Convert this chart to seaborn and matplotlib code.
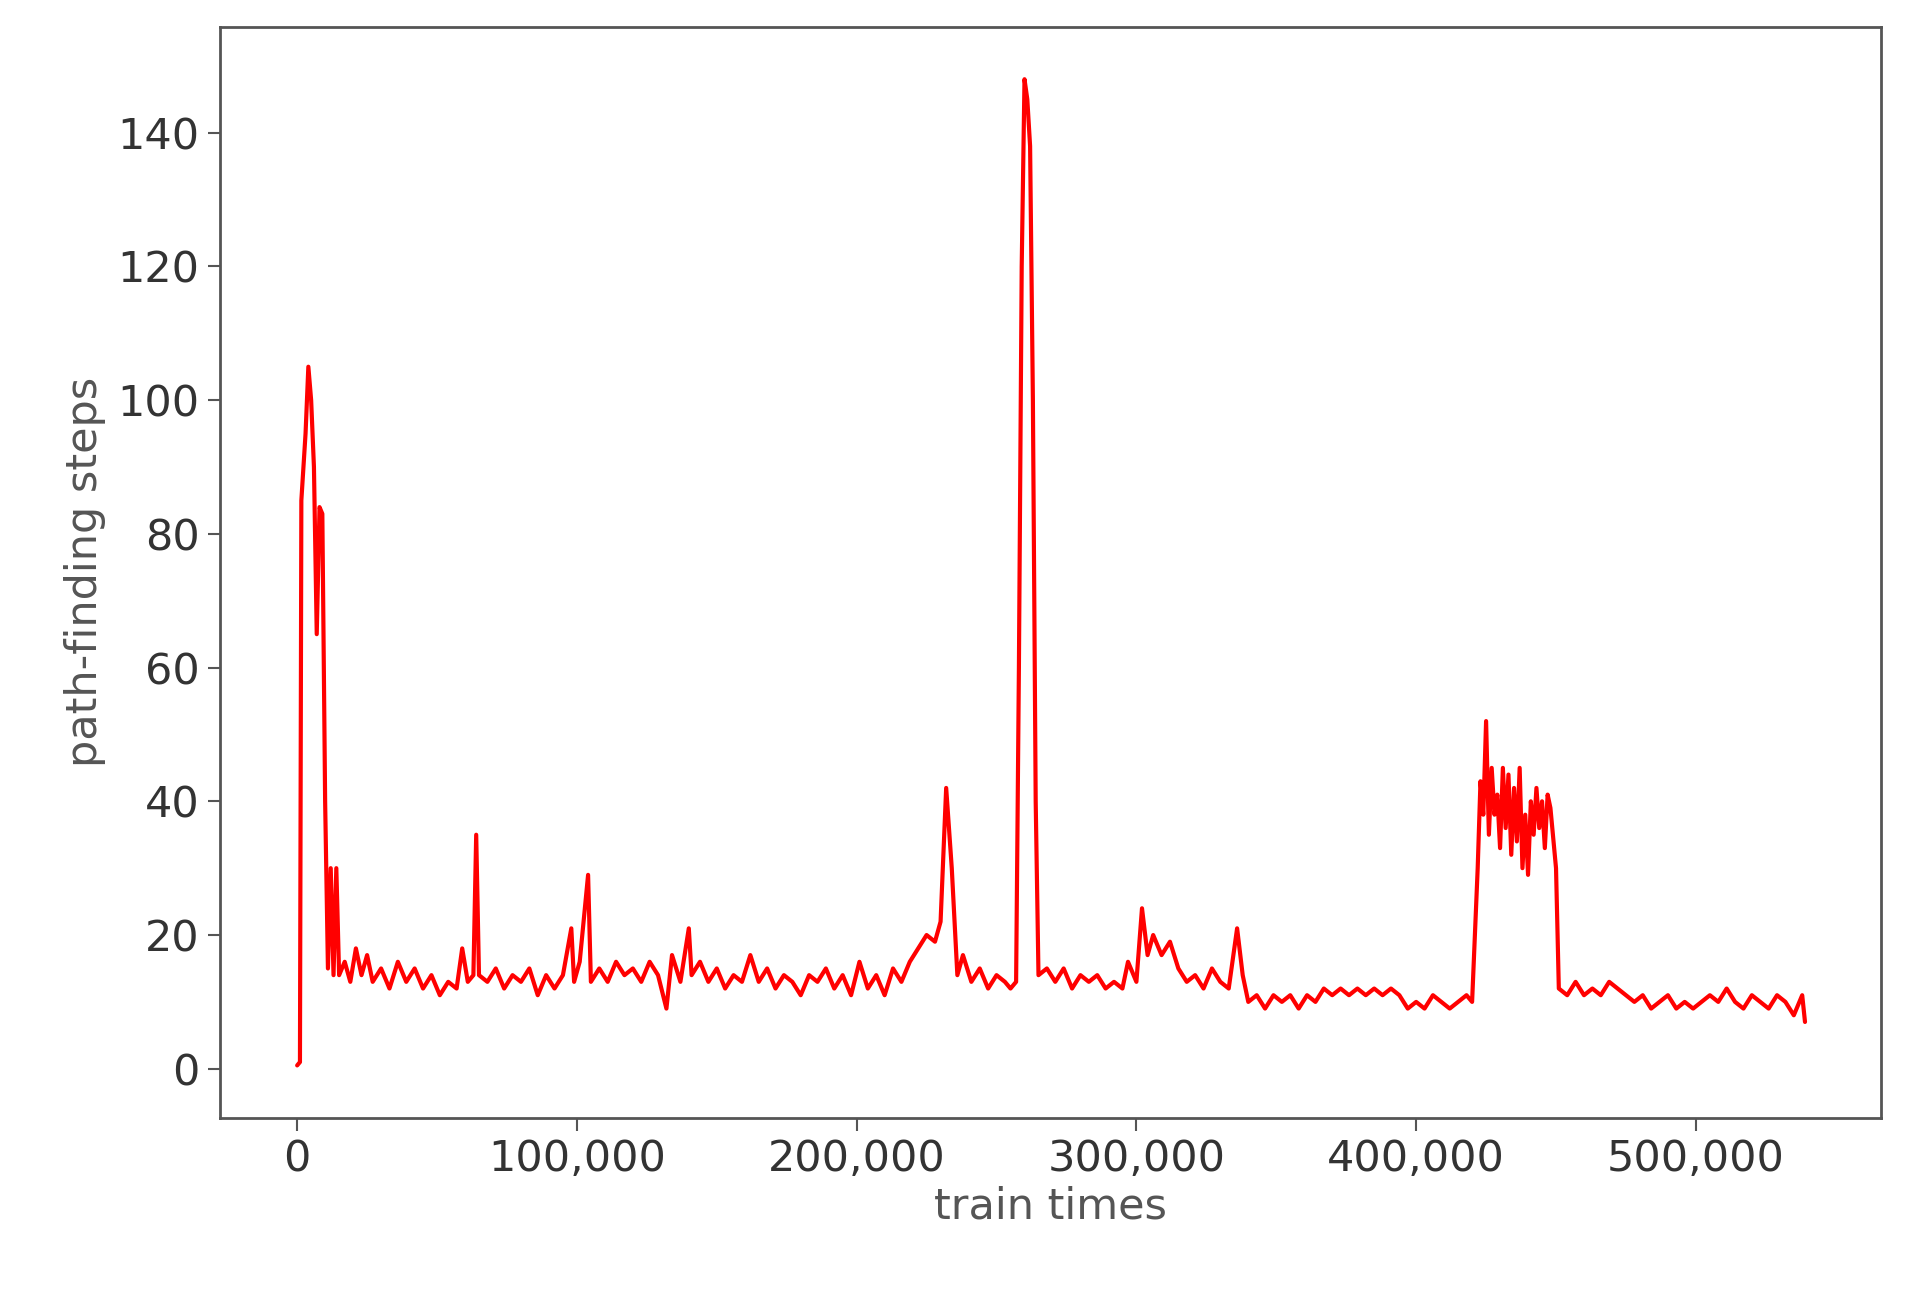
import numpy as np
import pandas as pd
import matplotlib
matplotlib.use("Agg")
import matplotlib.pyplot as plt
import seaborn as sns
from matplotlib.ticker import FuncFormatter

# ---- data ----
train_times = [0, 1000, 1500, 3000, 4000, 5000, 6000, 7000, 8000, 9000, 10000, 11000, 12000, 13000, 14000, 15000,
               17000, 19000, 21000, 23000, 25000, 27000, 30000, 33000, 36000, 39000, 42000, 45000, 48000, 51000,
               54000, 57000, 59000, 61000, 63000, 64000, 65000, 68000, 71000, 74000, 77000, 80000, 83000, 86000,
               89000, 92000, 95000, 98000, 99000, 101000, 104000, 105000, 108000, 111000, 114000, 117000, 120000,
               123000, 126000, 129000, 132000, 134000, 137000, 140000, 141000, 144000, 147000, 150000, 153000,
               156000, 159000, 162000, 165000, 168000, 171000, 174000, 177000, 180000, 183000, 186000, 189000,
               192000, 195000, 198000, 201000, 204000, 207000, 210000, 213000, 216000, 219000, 222000, 225000,
               228000, 230000, 232000, 234000, 236000, 238000, 241000, 244000, 247000, 250000, 253000, 255000,
               257000, 258000, 259000, 260000, 261000, 262000, 263000, 264000, 265000, 268000, 271000, 274000,
               277000, 280000, 283000, 286000, 289000, 292000, 295000, 297000, 300000, 302000, 304000, 306000,
               309000, 312000, 315000, 318000, 321000, 324000, 327000, 330000, 333000, 336000, 338000, 340000,
               343000, 346000, 349000, 352000, 355000, 358000, 361000, 364000, 367000, 370000, 373000, 376000,
               379000, 382000, 385000, 388000, 391000, 394000, 397000, 400000, 403000, 406000, 409000, 412000,
               415000, 418000, 420000, 422000, 423000, 424000, 425000, 426000, 427000, 428000, 429000, 430000,
               431000, 432000, 433000, 434000, 435000, 436000, 437000, 438000, 439000, 440000, 441000, 442000,
               443000, 444000, 445000, 446000, 447000, 448000, 450000, 451000, 454000, 457000, 460000, 463000,
               466000, 469000, 472000, 475000, 478000, 481000, 484000, 487000, 490000, 493000, 496000, 499000,
               502000, 505000, 508000, 511000, 514000, 517000, 520000, 523000, 526000, 529000, 532000, 535000,
               538000, 539000]
steps = [0.5, 1, 85, 95, 105, 100, 90, 65, 84, 83, 40, 15, 30, 14, 30, 14,
         16, 13, 18, 14, 17, 13, 15, 12, 16, 13, 15, 12, 14, 11,
         13, 12, 18, 13, 14, 35, 14, 13, 15, 12, 14, 13, 15, 11,
         14, 12, 14, 21, 13, 16, 29, 13, 15, 13, 16, 14, 15,
         13, 16, 14, 9, 17, 13, 21, 14, 16, 13, 15, 12,
         14, 13, 17, 13, 15, 12, 14, 13, 11, 14, 13, 15,
         12, 14, 11, 16, 12, 14, 11, 15, 13, 16, 18, 20,
         19, 22, 42, 30, 14, 17, 13, 15, 12, 14, 13, 12,
         13, 60, 120, 148, 145, 138, 100, 40, 14, 15, 13, 15,
         12, 14, 13, 14, 12, 13, 12, 16, 13, 24, 17, 20,
         17, 19, 15, 13, 14, 12, 15, 13, 12, 21, 14, 10,
         11, 9, 11, 10, 11, 9, 11, 10, 12, 11, 12, 11,
         12, 11, 12, 11, 12, 11, 9, 10, 9, 11, 10, 9,
         10, 11, 10, 30, 43, 38, 52, 35, 45, 38, 41, 33,
         45, 36, 44, 32, 42, 34, 45, 30, 38, 29, 40, 35,
         42, 36, 40, 33, 41, 39, 30, 12, 11, 13, 11, 12,
         11, 13, 12, 11, 10, 11, 9, 10, 11, 9, 10, 9,
         10, 11, 10, 12, 10, 9, 11, 10, 9, 11, 10, 8,
         11, 7]
x_ticks = [0, 100000, 200000, 300000, 400000, 500000]
y_ticks = [0, 20, 40, 60, 80, 100, 120, 140]

df = pd.DataFrame({"train times": train_times, "path-finding steps": steps})

sns.set_style("white")
fig = plt.figure(figsize=(19.15, 12.89), dpi=100)
ax = fig.add_axes([0.115, 0.133, 0.867, 0.846])
sns.lineplot(data=df, x="train times", y="path-finding steps", color="red", linewidth=3, ax=ax)

ax.set_xlim(-27500, 566000)
ax.set_ylim(-7.3, 155.8)
ax.set_xticks(x_ticks)
ax.set_yticks(y_ticks)
ax.xaxis.set_major_formatter(FuncFormatter(lambda v, p: f"{int(v):,}"))
ax.tick_params(axis="both", labelsize=31, labelcolor="#333333", length=9, width=1.5, color="#555555",
               direction="out", bottom=True, left=True, pad=6)
ax.set_xlabel("train times", fontsize=31, color="#555555", labelpad=4)
ax.set_ylabel("path-finding steps", fontsize=31, color="#555555", labelpad=8)
for s in ax.spines.values():
    s.set_color("#555555")
    s.set_linewidth(2)

fig.savefig("out.png", dpi=100)
